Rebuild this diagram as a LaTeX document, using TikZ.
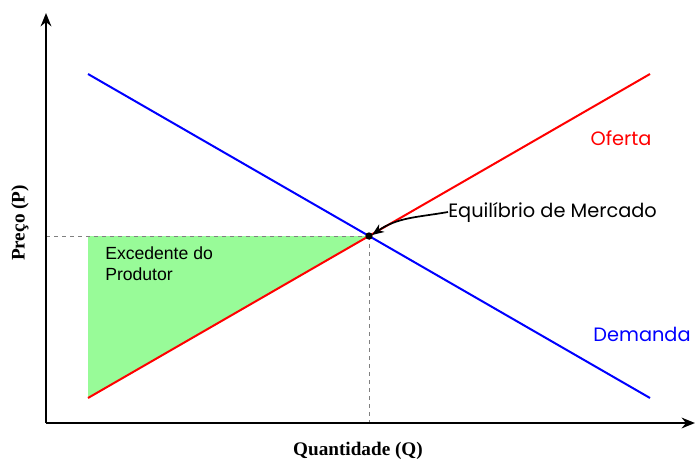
\documentclass[tikz,border=0pt]{standalone}
\usepackage{fontspec}
\setmainfont{Liberation Serif}
\newfontfamily\curvefont{Poppins}
\newfontfamily\areafont{Liberation Sans}
\usetikzlibrary{arrows.meta,positioning,calc}
\definecolor{surplusgreen}{RGB}{152,251,152}
\definecolor{supplyred}{RGB}{255,0,0}
\definecolor{demandblue}{RGB}{0,0,255}

\begin{document}
\begin{tikzpicture}[
        x=0.75pt, y=-0.75pt,
        axis/.style={line width=1.8pt, -{Stealth[length=10pt,width=8pt]}},
        curve/.style={line width=1.5pt, draw=#1},
        guide/.style={dashed, gray, line width=0.5pt},
        curvelabel/.style={font=\curvefont\fontsize{14.5}{17}\selectfont, text=#1, inner sep=0pt},
        axislabel/.style={font=\bfseries\fontsize{14.4}{16}\selectfont, inner sep=0pt}
    ]
        \useasboundingbox (0,0) rectangle (696,460);

        % points of the market
        \coordinate (origin) at (46,423);
        \coordinate (ytip) at (46,13);
        \coordinate (xtip) at (695,423);
        \coordinate (dstart) at (88,74);
        \coordinate (dend) at (650,398);
        \coordinate (sstart) at (88,398);
        \coordinate (send) at (650,74);
        \coordinate (eq) at (369,236);
        \coordinate (pstar) at (46,236);
        \coordinate (qstar) at (369,423);
        \coordinate (fillcorner) at (88,236);
        \coordinate (eqtip) at (372,235);

        % producer surplus
        \fill[surplusgreen] (fillcorner) -- (eq) -- (sstart) -- cycle;

        \draw[guide] (pstar) -- (eq);
        \draw[guide] (eq) -- (qstar);

        \draw[curve=demandblue] (dstart) -- (dend);
        \draw[curve=supplyred] (sstart) -- (send);

        \draw[axis] (origin) -- (ytip);
        \draw[axis] (origin) -- (xtip);

        \fill (eq) circle (3.7);

        \node[curvelabel=supplyred] (supply) at (621,138) {Oferta};
        \node[curvelabel=demandblue] (demand) at (642,334) {Demanda};
        \node[curvelabel=black, anchor=west] (eqlabel) at (448,212) {Equilíbrio de Mercado};
        \node[font=\areafont\fontsize{13.2}{15.8}\selectfont, align=left, anchor=north west, inner sep=0pt] (surplus) at (105,246) {Excedente do\\Produtor};

        \draw[line width=1.3pt, -{Stealth[length=9pt,width=7pt]}] (eqlabel.west) to[out=190, in=35] (eqtip);

        \node[axislabel, rotate=90] (ylabel) at (20,223) {Preço (P)};
        \node[axislabel] (xlabel) at (358,451) {Quantidade (Q)};
    \end{tikzpicture}
\end{document}
